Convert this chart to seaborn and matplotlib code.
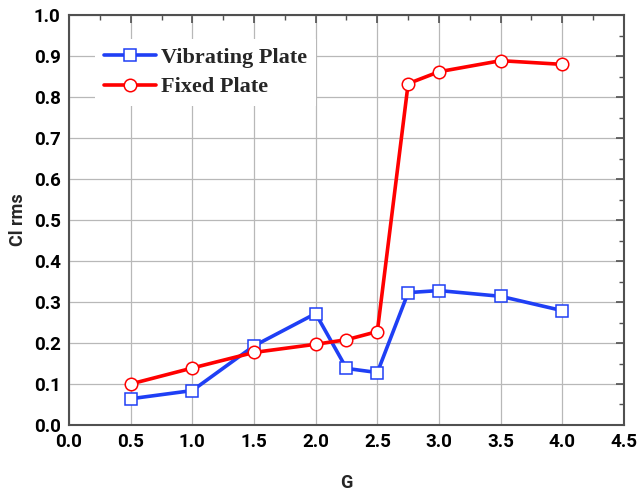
import matplotlib
matplotlib.use("Agg")
import matplotlib.pyplot as plt
import seaborn as sns
import pandas as pd
from matplotlib.ticker import MultipleLocator

# Data
g_values = [0.5, 1.0, 1.5, 2.0, 2.25, 2.5, 2.75, 3.0, 3.5, 4.0]
vibrating_plate = [0.064, 0.084, 0.193, 0.272, 0.138, 0.128, 0.323, 0.328, 0.314, 0.279]
fixed_plate = [0.100, 0.139, 0.177, 0.197, 0.208, 0.228, 0.833, 0.862, 0.889, 0.880]
series_names = ["Vibrating Plate", "Fixed Plate"]

sns.set_style("white")

df_v = pd.DataFrame({"G": g_values, "Cl": vibrating_plate})
df_f = pd.DataFrame({"G": g_values, "Cl": fixed_plate})

fig = plt.figure(figsize=(6.39, 4.90), dpi=100)
ax = fig.add_axes([0.108, 0.1327, 0.8685, 0.8363])

sns.lineplot(data=df_v, x="G", y="Cl", ax=ax, color="#1f3ff5", linewidth=2.6,
             marker="s", markersize=8, markerfacecolor="white",
             markeredgecolor="#1f3ff5", markeredgewidth=1.1,
             label=series_names[0], zorder=3)
sns.lineplot(data=df_f, x="G", y="Cl", ax=ax, color="#ff0000", linewidth=2.6,
             marker="o", markersize=9, markerfacecolor="white",
             markeredgecolor="#ff0000", markeredgewidth=1.1,
             label=series_names[1], zorder=3)

ax.set_xlim(0, 4.5)
ax.set_ylim(0, 1.0)
ax.xaxis.set_major_locator(MultipleLocator(0.5))
ax.xaxis.set_minor_locator(MultipleLocator(0.25))
ax.yaxis.set_major_locator(MultipleLocator(0.1))
ax.yaxis.set_minor_locator(MultipleLocator(0.05))
ax.set_xticklabels([f"{v:.1f}" for v in ax.get_xticks()])
ax.set_yticklabels([f"{v:.1f}" for v in ax.get_yticks()])

ax.grid(True, which="major", color="#b8b8b8", linewidth=0.9)
ax.set_axisbelow(True)

for s in ax.spines.values():
    s.set_visible(True)
    s.set_color("#505050")
    s.set_linewidth(1.5)

ax.tick_params(which="both", direction="in", top=True, right=True,
               colors="#505050", labelcolor="black")
ax.tick_params(which="major", length=6, width=1.2, pad=6)
ax.tick_params(which="minor", length=3.5, width=1.0)

for lab in ax.get_xticklabels() + ax.get_yticklabels():
    lab.set_fontfamily("Roboto")
    lab.set_fontweight("bold")
    lab.set_fontsize(13.5)

ax.set_xlabel("G", fontfamily="Roboto", fontweight="bold", fontsize=13, labelpad=16)
ax.set_ylabel("Cl rms", fontfamily="Roboto", fontweight="bold", fontsize=13, labelpad=5)

leg = ax.legend(loc="upper left", bbox_to_anchor=(0.047, 0.943), frameon=True,
                facecolor="white", edgecolor="none", framealpha=1.0,
                prop={"family": "Liberation Serif", "weight": "bold", "size": 16},
                handlelength=2.35, handletextpad=0.2, labelspacing=0.4,
                borderaxespad=0.0, fancybox=False)

fig.savefig("out.png", dpi=100)
